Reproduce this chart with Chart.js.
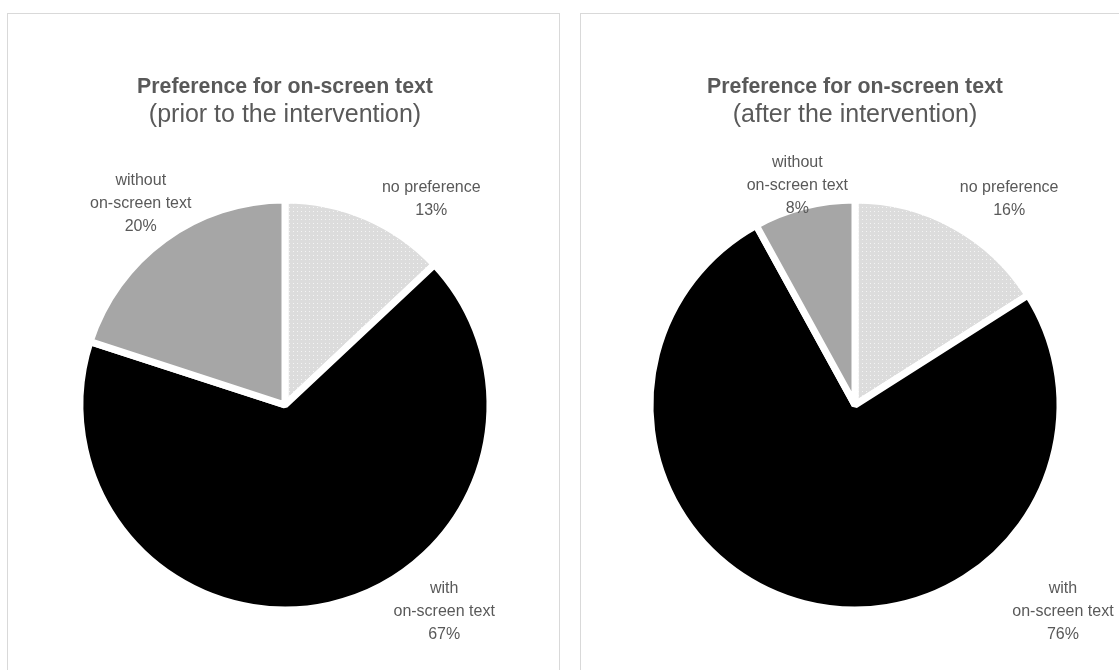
<!DOCTYPE html>
<html>
<head>
<meta charset="utf-8">
<script src="https://cdn.jsdelivr.net/npm/chart.js@4.4.1/dist/chart.umd.min.js"></script>
<style>
  html, body { margin: 0; padding: 0; background: #ffffff; width: 1119px; height: 670px; overflow: hidden; }
  .panel { position: absolute; top: 13px; width: 553px; height: 700px; box-sizing: border-box;
           border: 1px solid #d9d9d9; background: #ffffff; }
  .panel canvas { display: block; }
  #leftPanel { left: 7px; }
  #rightPanel { left: 580px; }
</style>
</head>
<body>
<div class="panel" id="leftPanel"><canvas id="priorChart" width="551" height="660"></canvas></div>
<div class="panel" id="rightPanel"><canvas id="afterChart" width="551" height="660"></canvas></div>
<script>
// Categories in drawing order (clockwise from 12 o'clock)
const categories = ['no preference', 'with on-screen text', 'without on-screen text'];
const categoryLabelLines = [['no preference'], ['with', 'on-screen text'], ['without', 'on-screen text']];

// Shares in percent
const priorValues = [13, 67, 20];
const afterValues = [16, 76, 8];

// Titles
const chartTitle = 'Preference for on-screen text';
const priorSubtitle = '(prior to the intervention)';
const afterSubtitle = '(after the intervention)';

const TEXT_COLOR = '#595959';
const FONT_FAMILY = '"Liberation Sans", Arial, sans-serif';

// Light grey fill with a fine lighter dot grid
function dottedPattern() {
  const c = document.createElement('canvas');
  c.width = 4; c.height = 4;
  const g = c.getContext('2d');
  g.fillStyle = '#dcdcdc';
  g.fillRect(0, 0, 4, 4);
  g.fillStyle = '#f4f4f4';
  g.fillRect(1, 1, 1, 1);
  return g.createPattern(c, 'repeat');
}

// Label anchor (in units of the pie radius, relative to the pie centre) per slice
const priorLabelPlacement = [[0.726, -1.022], [0.79, 1.025], [-0.716, -1.0]];
const afterLabelPlacement = [[0.765, -1.022], [1.032, 1.025], [-0.286, -1.089]];

const sliceLabels = {
  id: 'sliceLabels',
  afterDatasetsDraw(chart, args, opts) {
    const ctx = chart.ctx;
    const meta = chart.getDatasetMeta(0);
    const values = chart.data.datasets[0].data;
    ctx.save();
    ctx.fillStyle = TEXT_COLOR;
    ctx.font = '16px ' + FONT_FAMILY;
    ctx.textAlign = 'center';
    ctx.textBaseline = 'middle';
    const lh = 23;
    meta.data.forEach((arc, i) => {
      const p = arc.getProps(['x', 'y', 'outerRadius'], true);
      const r = p.outerRadius - 3.5;
      const cx = p.x + opts.placement[i][0] * r;
      const cy = p.y + opts.placement[i][1] * r;
      const lines = categoryLabelLines[i].concat([values[i] + '%']);
      const y0 = cy - (lines.length - 1) * lh / 2;
      lines.forEach((t, k) => ctx.fillText(t, cx, y0 + k * lh));
    });
    ctx.restore();
  }
};

function makePie(canvasId, values, subtitle, placement, padLeft, padRight) {
  return new Chart(document.getElementById(canvasId), {
    type: 'pie',
    data: {
      labels: categories,
      datasets: [{
        data: values,
        backgroundColor: [dottedPattern(), '#000000', '#a6a6a6'],
        borderColor: '#ffffff',
        borderWidth: 7,
        radius: 205
      }]
    },
    options: {
      responsive: false,
      animation: false,
      events: [],
      layout: { padding: { top: 0, bottom: 64.6, left: padLeft, right: padRight } },
      plugins: {
        legend: { display: false },
        tooltip: { enabled: false },
        title: {
          display: true, text: chartTitle, color: TEXT_COLOR,
          font: { family: FONT_FAMILY, size: 21.3, weight: 'bold', lineHeight: 1.2 },
          padding: { top: 60, bottom: 1 }
        },
        subtitle: {
          display: true, text: subtitle, color: TEXT_COLOR,
          font: { family: FONT_FAMILY, size: 25, weight: 'normal', lineHeight: 1.2 },
          padding: { top: 0, bottom: 70 }
        },
        sliceLabels: { placement: placement }
      }
    },
    plugins: [sliceLabels]
  });
}

makePie('priorChart', priorValues, priorSubtitle, priorLabelPlacement, 61, 58);
makePie('afterChart', afterValues, afterSubtitle, afterLabelPlacement, 58, 61);
</script>
</body>
</html>
